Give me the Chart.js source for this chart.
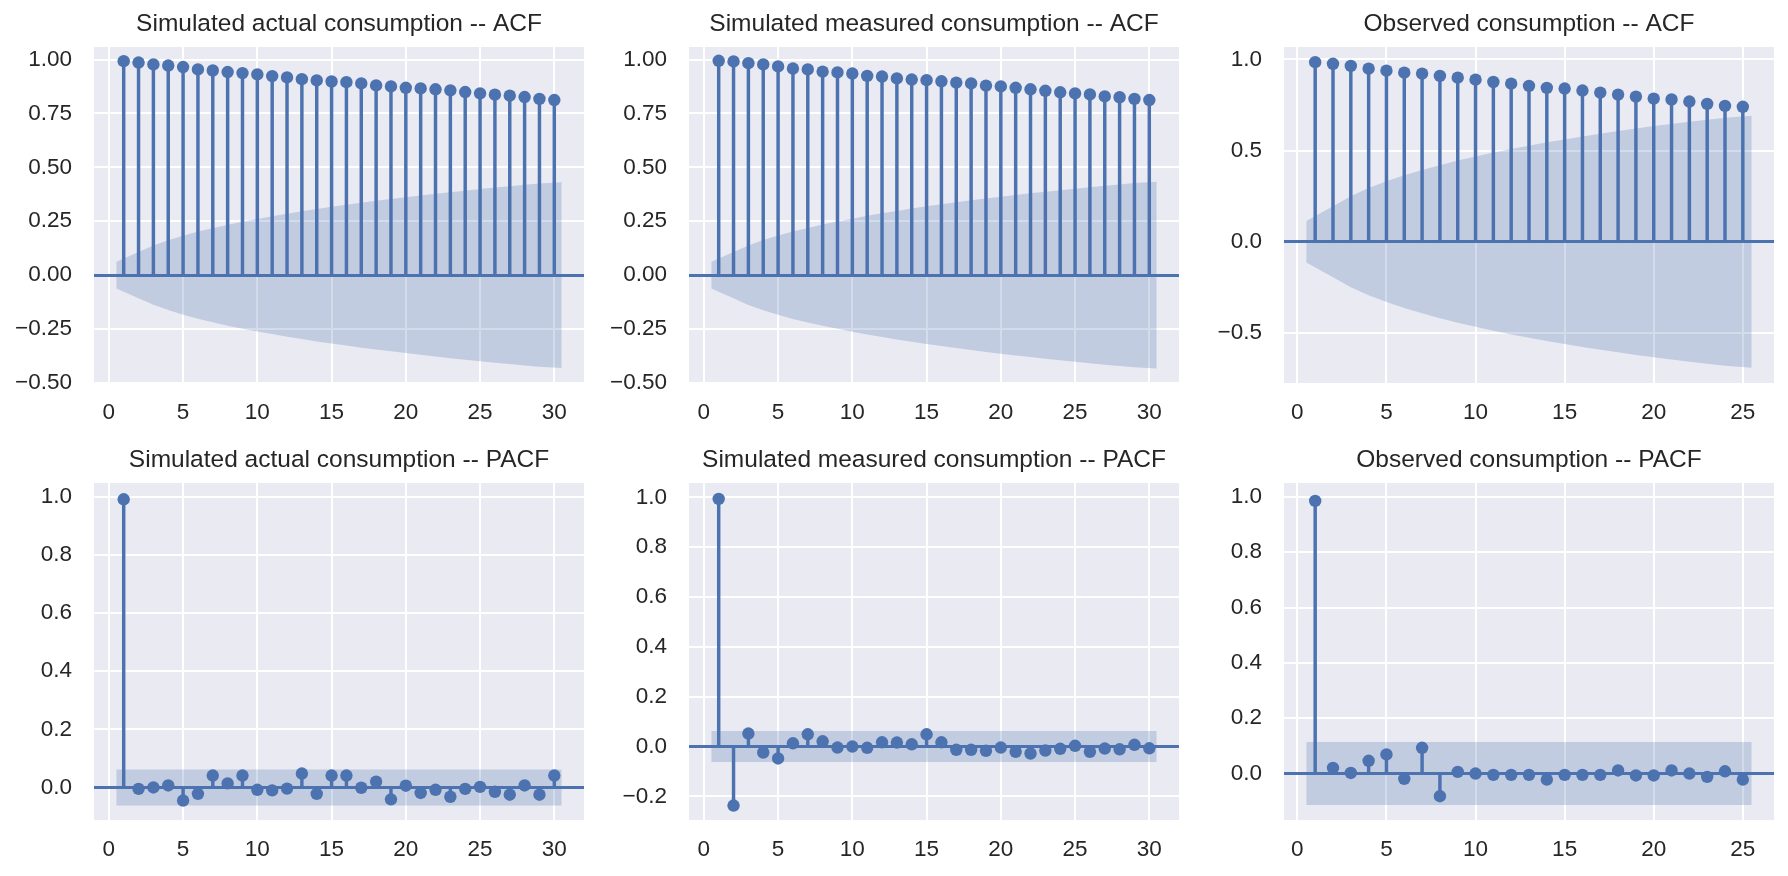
<!DOCTYPE html>
<html>
<head>
<meta charset="utf-8">
<script src="https://cdn.jsdelivr.net/npm/chart.js@4.4.1/dist/chart.umd.min.js"></script>
<style>
  html, body { margin: 0; padding: 0; background: #ffffff; }
  body { width: 1788px; height: 876px; position: relative; overflow: hidden; }
  canvas { position: absolute; }
</style>
</head>
<body>
<canvas id="c0"></canvas>
<canvas id="c1"></canvas>
<canvas id="c2"></canvas>
<canvas id="c3"></canvas>
<canvas id="c4"></canvas>
<canvas id="c5"></canvas>
<script>
// ---------------- DATA ----------------
const lags30 = [1,2,3,4,5,6,7,8,9,10,11,12,13,14,15,16,17,18,19,20,21,22,23,24,25,26,27,28,29,30];
const lags25 = [1,2,3,4,5,6,7,8,9,10,11,12,13,14,15,16,17,18,19,20,21,22,23,24,25];

const titles = [
  "Simulated actual consumption -- ACF",
  "Simulated measured consumption -- ACF",
  "Observed consumption -- ACF",
  "Simulated actual consumption -- PACF",
  "Simulated measured consumption -- PACF",
  "Observed consumption -- PACF"
];

const simActualAcf = [0.992,0.986,0.977,0.972,0.965,0.954,0.949,0.942,0.937,0.931,0.923,0.917,0.909,0.903,0.898,0.895,0.889,0.880,0.875,0.869,0.866,0.862,0.857,0.849,0.843,0.837,0.832,0.826,0.817,0.812];
const simActualAcfBand = [0.062,0.107,0.137,0.162,0.183,0.202,0.218,0.234,0.248,0.261,0.273,0.285,0.296,0.307,0.317,0.326,0.336,0.345,0.353,0.361,0.369,0.377,0.385,0.392,0.399,0.406,0.412,0.419,0.425,0.431];

const simMeasuredAcf = [0.994,0.991,0.983,0.977,0.968,0.958,0.954,0.944,0.940,0.935,0.924,0.921,0.912,0.907,0.904,0.899,0.893,0.889,0.879,0.875,0.869,0.862,0.855,0.848,0.843,0.838,0.829,0.825,0.817,0.812];
const simMeasuredAcfBand = [0.062,0.107,0.138,0.163,0.184,0.203,0.219,0.235,0.249,0.262,0.275,0.287,0.298,0.309,0.319,0.329,0.338,0.347,0.356,0.364,0.372,0.380,0.387,0.394,0.401,0.408,0.415,0.421,0.427,0.433];

const observedAcf = [0.985,0.976,0.964,0.949,0.938,0.927,0.922,0.909,0.900,0.889,0.876,0.867,0.855,0.844,0.840,0.829,0.818,0.807,0.796,0.785,0.780,0.769,0.756,0.745,0.740];
const observedAcfBand = [0.114,0.195,0.250,0.294,0.331,0.364,0.393,0.420,0.445,0.467,0.489,0.509,0.527,0.545,0.561,0.577,0.592,0.607,0.621,0.634,0.646,0.658,0.669,0.680,0.691];

const simActualPacf = [0.992,-0.005,0.000,0.007,-0.045,-0.022,0.041,0.014,0.041,-0.008,-0.010,-0.004,0.048,-0.022,0.041,0.041,-0.001,0.020,-0.041,0.006,-0.019,-0.008,-0.032,-0.005,0.002,-0.015,-0.025,0.007,-0.025,0.041];
const simActualPacfBand = [0.062,0.062,0.062,0.062,0.062,0.062,0.062,0.062,0.062,0.062,0.062,0.062,0.062,0.062,0.062,0.062,0.062,0.062,0.062,0.062,0.062,0.062,0.062,0.062,0.062,0.062,0.062,0.062,0.062,0.062];

const simMeasuredPacf = [0.994,-0.237,0.052,-0.024,-0.048,0.013,0.049,0.021,-0.004,0.000,-0.005,0.017,0.016,0.009,0.049,0.017,-0.013,-0.013,-0.017,-0.004,-0.021,-0.028,-0.016,-0.009,0.003,-0.021,-0.008,-0.011,0.007,-0.007];
const simMeasuredPacfBand = [0.062,0.062,0.062,0.062,0.062,0.062,0.062,0.062,0.062,0.062,0.062,0.062,0.062,0.062,0.062,0.062,0.062,0.062,0.062,0.062,0.062,0.062,0.062,0.062,0.062,0.062,0.062,0.062,0.062,0.062];

const observedPacf = [0.985,0.020,0.002,0.046,0.069,-0.019,0.093,-0.082,0.006,0.000,-0.005,-0.005,-0.005,-0.022,-0.005,-0.005,-0.005,0.011,-0.007,-0.007,0.011,0.000,-0.012,0.008,-0.022];
const observedPacfBand = [0.114,0.114,0.114,0.114,0.114,0.114,0.114,0.114,0.114,0.114,0.114,0.114,0.114,0.114,0.114,0.114,0.114,0.114,0.114,0.114,0.114,0.114,0.114,0.114,0.114];

const xTicks30 = [0,5,10,15,20,25,30];
const xTicks25 = [0,5,10,15,20,25];
const yTicksAcf = [-0.5,-0.25,0,0.25,0.5,0.75,1];
const yTicksObsAcf = [-0.5,0,0.5,1];
const yTicksPacf = [0,0.2,0.4,0.6,0.8,1];
const yTicksPacfNeg = [-0.2,0,0.2,0.4,0.6,0.8,1];

// ---------------- STYLE / LAYOUT ----------------
const BLUE = '#4C72B0';
const BAND = 'rgba(76,114,176,0.25)';
const FACE = '#EAEAF2';
const TEXT = '#262626';
const FONT = '"Liberation Sans", Arial, sans-serif';
const ML = 90, MR = 15, MT = 47, MB = 50, PW = 490;

const panels = [
  {id:'c0', title:titles[0], lags:lags30, vals:simActualAcf,    band:simActualAcfBand,    xt:xTicks30, yt:yTicksAcf,    dec:2, xmin:-1, xmax:32, ymin:-0.5, ymax:1.058, left:93.5,  top:46.7,  ph:336},
  {id:'c1', title:titles[1], lags:lags30, vals:simMeasuredAcf,  band:simMeasuredAcfBand,  xt:xTicks30, yt:yTicksAcf,    dec:2, xmin:-1, xmax:32, ymin:-0.5, ymax:1.058, left:689,   top:46.7,  ph:336},
  {id:'c2', title:titles[2], lags:lags25, vals:observedAcf,     band:observedAcfBand,     xt:xTicks25, yt:yTicksObsAcf, dec:1, xmin:-0.75, xmax:26.75, ymin:-0.775, ymax:1.068, left:1283.5, top:46.7, ph:336},
  {id:'c3', title:titles[3], lags:lags30, vals:simActualPacf,   band:simActualPacfBand,   xt:xTicks30, yt:yTicksPacf,   dec:1, xmin:-1, xmax:32, ymin:-0.112, ymax:1.048, left:93.5,  top:483.3, ph:337},
  {id:'c4', title:titles[4], lags:lags30, vals:simMeasuredPacf, band:simMeasuredPacfBand, xt:xTicks30, yt:yTicksPacfNeg,dec:1, xmin:-1, xmax:32, ymin:-0.295, ymax:1.058, left:689,   top:483.3, ph:337},
  {id:'c5', title:titles[5], lags:lags25, vals:observedPacf,    band:observedPacfBand,    xt:xTicks25, yt:yTicksPacf,   dec:1, xmin:-0.75, xmax:26.75, ymin:-0.168, ymax:1.05, left:1283.5, top:483.3, ph:337}
];

const facePlugin = {
  id: 'face',
  beforeDraw(chart) {
    const a = chart.chartArea, ctx = chart.ctx;
    ctx.save();
    ctx.fillStyle = FACE;
    ctx.fillRect(a.left, a.top, a.right - a.left, a.bottom - a.top);
    ctx.restore();
  }
};

function fmt(v, dec) {
  const s = Math.abs(v).toFixed(dec);
  return (v < -1e-9 ? '\u2212' : '') + s;
}

function makeChart(p) {
  const cv = document.getElementById(p.id);
  const W = ML + PW + MR, H = MT + p.ph + MB;
  cv.width = W; cv.height = H;
  cv.style.width = W + 'px'; cv.style.height = H + 'px';
  cv.style.left = (p.left - ML) + 'px';
  cv.style.top = (p.top - MT) + 'px';
  const n = p.lags.length;
  const bandX = p.lags.map((l, i) => i === 0 ? l - 0.5 : (i === n - 1 ? l + 0.5 : l));
  new Chart(cv, {
    type: 'line',
    data: {
      datasets: [
        {type:'line', data: bandX.map((x, i) => ({x: x, y: p.band[i]})), fill: '+1', backgroundColor: BAND,
         borderColor: 'rgba(0,0,0,0)', borderWidth: 0, pointRadius: 0, tension: 0, order: 3},
        {type:'line', data: bandX.map((x, i) => ({x: x, y: -p.band[i]})), fill: false,
         borderColor: 'rgba(0,0,0,0)', borderWidth: 0, pointRadius: 0, tension: 0, order: 3},
        {type:'bar', data: p.lags.map((x, i) => ({x: x, y: p.vals[i]})), backgroundColor: BLUE,
         borderWidth: 0, barThickness: 2.8, grouped: false, order: 2},
        {type:'line', data: p.lags.map((x, i) => ({x: x, y: p.vals[i]})), showLine: false,
         pointRadius: 6.2, pointBackgroundColor: BLUE, pointBorderWidth: 0, pointHoverRadius: 6.2, order: 1}
      ]
    },
    options: {
      responsive: false,
      animation: false,
      events: [],
      layout: {padding: {left: 0, right: MR, top: 0, bottom: 0}},
      plugins: {
        legend: {display: false},
        tooltip: {enabled: false},
        title: {display: true, text: p.title, fullSize: false, color: TEXT,
                font: {family: FONT, size: 24.5, weight: 'normal', lineHeight: 1.2},
                padding: {top: 9.7, bottom: 7.9}}
      },
      scales: {
        x: {
          type: 'linear', min: p.xmin, max: p.xmax, offset: false,
          grid: {color: '#ffffff', lineWidth: 2, drawTicks: false, offset: false},
          border: {display: false},
          ticks: {color: TEXT, font: {family: FONT, size: 22.5}, padding: 16, maxRotation: 0, autoSkip: false,
                  callback: v => String(v)},
          afterBuildTicks: s => { s.ticks = p.xt.map(v => ({value: v})); },
          afterFit: s => { s.height = MB; }
        },
        y: {
          type: 'linear', min: p.ymin, max: p.ymax,
          grid: {
            color: c => (c.tick && Math.abs(c.tick.value) < 1e-9) ? BLUE : '#ffffff',
            lineWidth: c => (c.tick && Math.abs(c.tick.value) < 1e-9) ? 3 : 2,
            drawTicks: false
          },
          border: {display: false},
          ticks: {color: TEXT, font: {family: FONT, size: 22.5}, padding: 22, autoSkip: false,
                  callback: v => fmt(v, p.dec)},
          afterBuildTicks: s => { s.ticks = p.yt.map(v => ({value: v})); },
          afterFit: s => { s.width = ML; }
        }
      }
    },
    plugins: [facePlugin]
  });
}

panels.forEach(makeChart);
</script>
</body>
</html>
